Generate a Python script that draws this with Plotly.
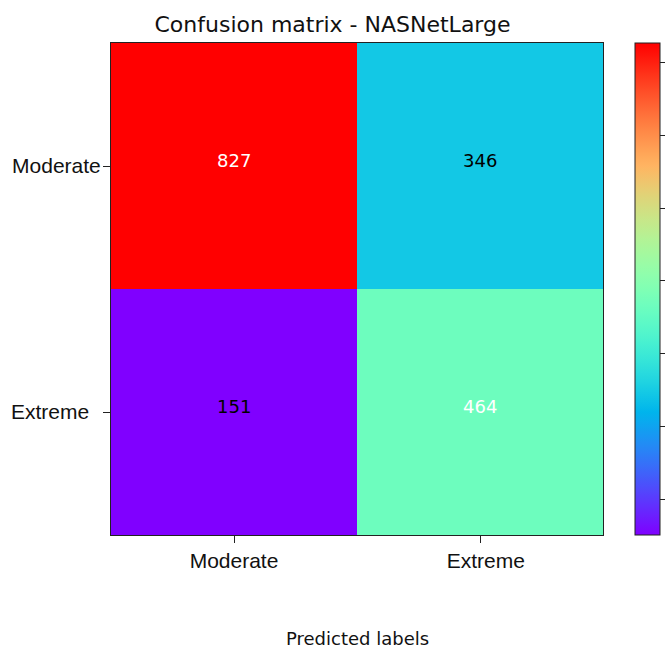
import numpy as np
import plotly.graph_objects as go

# ---- data ----
true_labels = ["Moderate", "Extreme"]
pred_labels = ["Moderate", "Extreme"]
row_moderate = [827, 346]
row_extreme = [151, 464]
title_text = "Confusion matrix - NASNetLarge"
x_title = "Predicted labels"

z = [row_moderate, row_extreme]

# matplotlib "rainbow" colormap
def rainbow(t):
    r = min(1.0, abs(2 * t - 0.5))
    g = np.sin(np.pi * t)
    b = np.cos(np.pi * t / 2)
    return "rgb(%d,%d,%d)" % (round(r * 255), round(g * 255), round(max(b, 0) * 255))

stops = np.linspace(0, 1, 101)
colorscale = [[float(s), rainbow(s)] for s in stops]

xi = [0, 1]
yi = [0, 1]

W, H = 665, 648
L, R, T, B = 111, 62, 43, 113
PW = W - L - R
PH = H - T - B

fig = go.Figure()
fig.add_trace(go.Heatmap(
    z=z, x=xi, y=yi,
    colorscale=colorscale,
    showscale=True,
    hoverinfo="skip",
    colorbar=dict(
        x=(635 - L) / PW, xanchor="left", xpad=0, ypad=0,
        y=0.5, yanchor="middle", len=1.0, lenmode="fraction",
        thickness=25, outlinewidth=1, outlinecolor="#222",
        ticks="outside", ticklen=5, tickwidth=1, tickcolor="#222",
        tick0=200, dtick=100, showticklabels=False,
    ),
))

vmax = max(max(row_moderate), max(row_extreme))
thresh = vmax / 2
for i, row in enumerate(z):
    for j, v in enumerate(row):
        fig.add_annotation(
            x=xi[j], y=yi[i], text=str(v), showarrow=False, yshift=6,
            font=dict(family="DejaVu Sans", size=18,
                      color="white" if v > thresh else "black"),
        )

fig.add_annotation(
    x=0.5, y=-103 / PH, xref="paper", yref="paper", text=x_title,
    xanchor="center", yanchor="middle",
    showarrow=False, font=dict(family="DejaVu Sans", size=18, color="#111"),
)

x_ticktext = [pred_labels[0], "\u00a0\u00a0" + pred_labels[1]]
y_ticktext = [true_labels[0], true_labels[1] + "\u00a0\u00a0"]

fig.update_layout(
    width=W, height=H,
    margin=dict(l=L, r=R, t=T, b=B, autoexpand=False),
    paper_bgcolor="white", plot_bgcolor="white",
    title=dict(text=title_text, x=0.5, xanchor="center", y=1 - 24 / H,
               yanchor="middle",
               font=dict(family="DejaVu Sans", size=22, color="#111")),
    xaxis=dict(
        tickmode="array", tickvals=xi, ticktext=x_ticktext,
        range=[-0.5, 1.5], showgrid=False, zeroline=False,
        ticks="outside", ticklen=7, tickcolor="#222",
        showline=True, linecolor="#222", linewidth=1, mirror=True,
        tickfont=dict(family="Liberation Sans", size=21, color="#111"),
    ),
    yaxis=dict(
        tickmode="array", tickvals=yi, ticktext=y_ticktext,
        range=[1.5, -0.5], showgrid=False, zeroline=False,
        ticks="outside", ticklen=7, tickcolor="#222",
        ticklabelstandoff=-2,
        showline=True, linecolor="#222", linewidth=1, mirror=True,
        tickfont=dict(family="Liberation Sans", size=21, color="#111"),
    ),
)

fig.write_html(
    "out.html",
    config={"displayModeBar": False},
    post_script="document.body.style.margin='0';document.body.style.overflow='hidden';",
)
